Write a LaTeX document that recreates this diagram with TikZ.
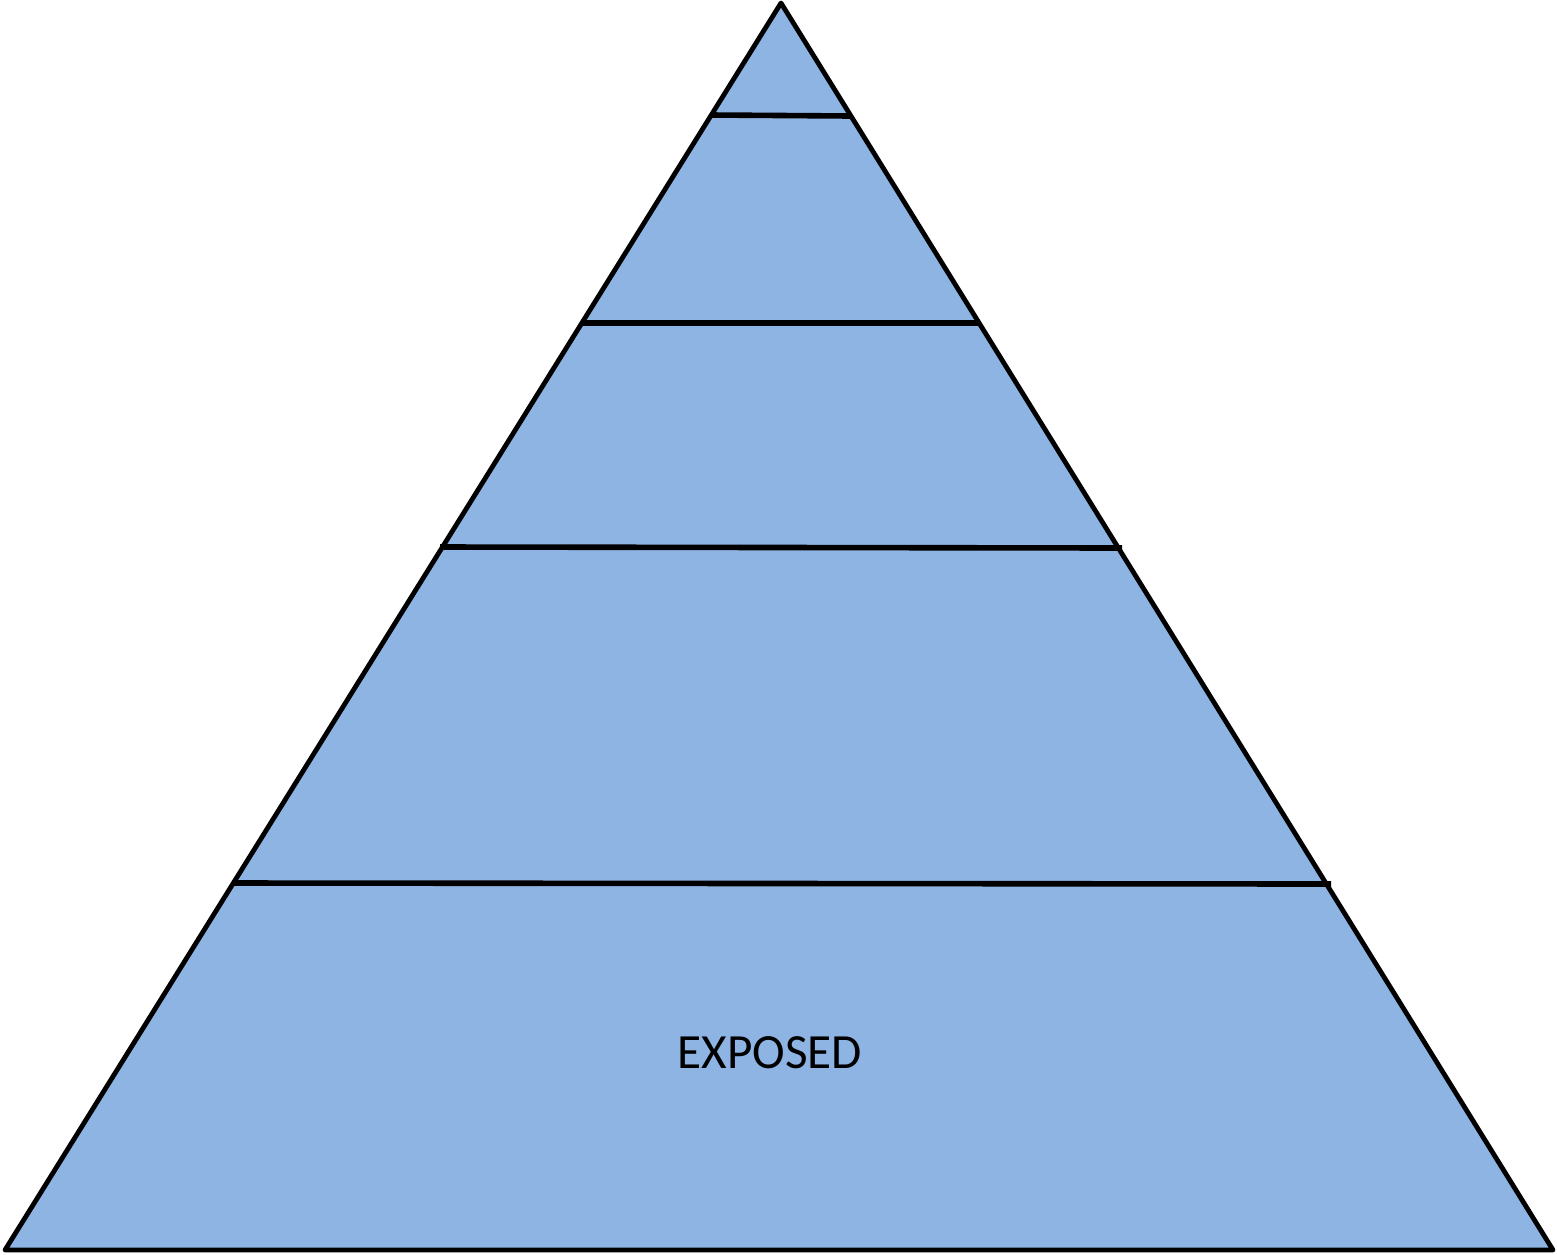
\documentclass[tikz,border=0pt]{standalone}
\usepackage{fontspec}
\setmainfont{Carlito}
\definecolor{pyrfill}{HTML}{8EB4E3}
\tikzset{
  edge/.style={draw=black, line width=2.4pt, line join=round},
  band/.style={draw=black, line width=2.8pt},
  lbl/.style={font=\fontsize{24.6}{29}\selectfont, text=black, inner sep=0pt}
}
\begin{document}
\begin{tikzpicture}[x=0.5pt, y=-0.5pt]
\useasboundingbox (0,0) rectangle (1557,1254);
\coordinate (top) at (781,3);
\coordinate (bl) at (5,1250);
\coordinate (br) at (1553,1250);
\fill[pyrfill] (top) -- (br) -- (bl) -- cycle;
\coordinate (a1) at (711,115); \coordinate (a2) at (850,116);
\coordinate (b1) at (582,323); \coordinate (b2) at (979,323);
\coordinate (c1) at (440,547); \coordinate (c2) at (1122,548);
\coordinate (d1) at (232,883); \coordinate (d2) at (1331,884);
\draw[band] (a1) -- (a2);
\draw[band] (b1) -- (b2);
\draw[band] (c1) -- (c2);
\draw[band] (d1) -- (d2);
\draw[edge] (top) -- (br) -- (bl) -- cycle;
\node[lbl] (exposed) at (770,1053) {EXPOSED};
\end{tikzpicture}
\end{document}
